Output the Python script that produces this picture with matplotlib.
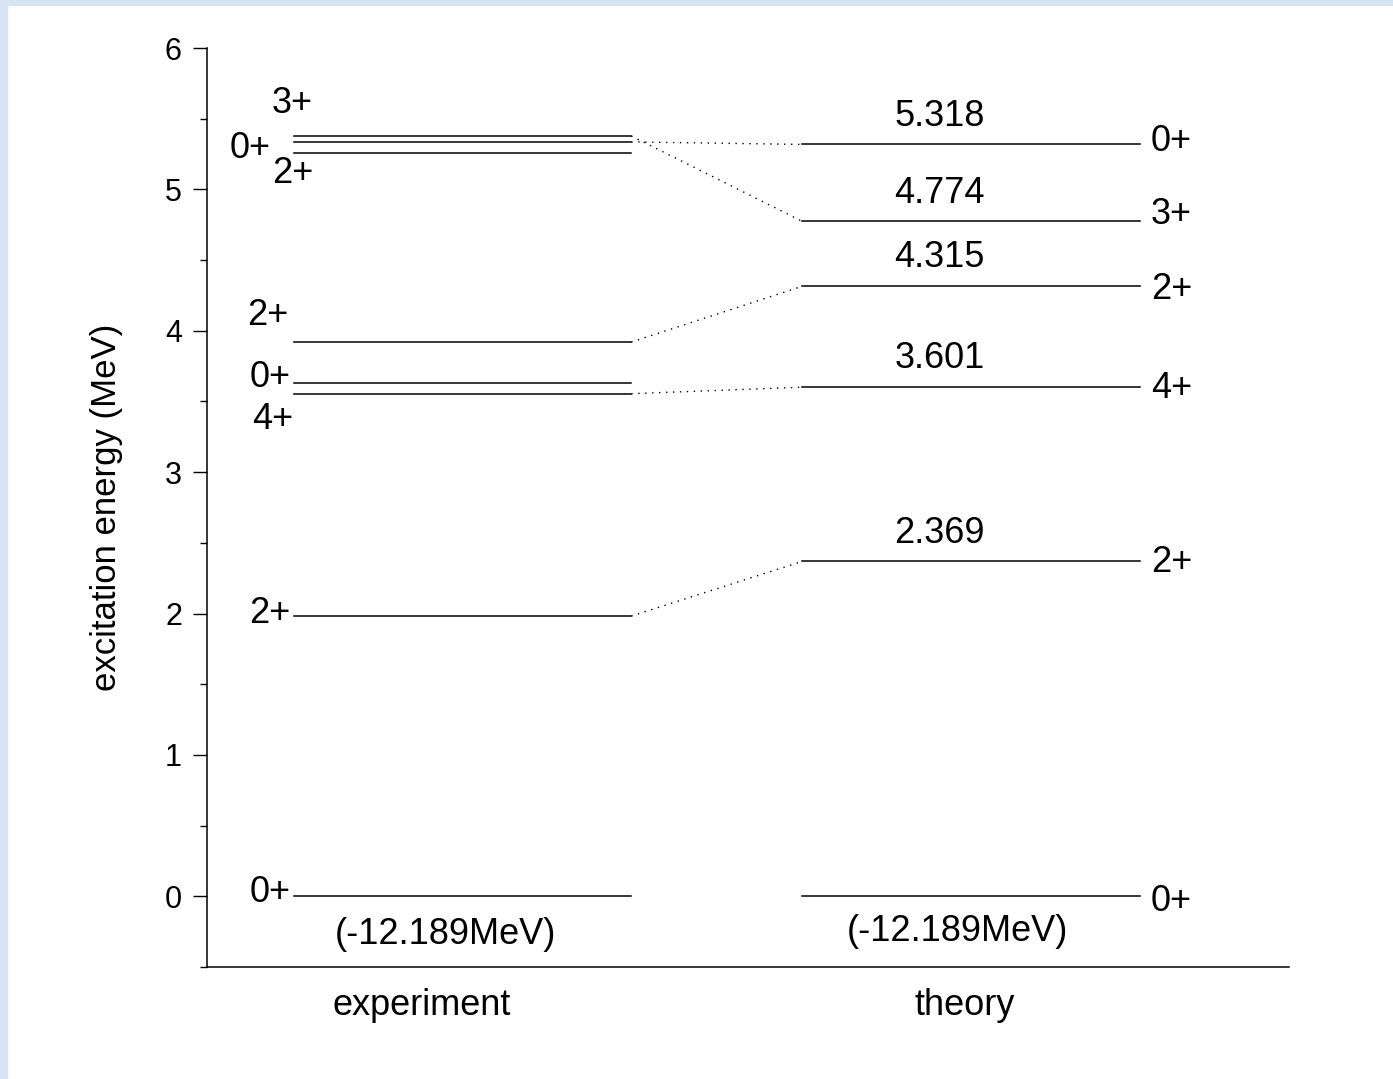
import matplotlib
matplotlib.use("Agg")
import matplotlib.pyplot as plt
from matplotlib.patches import Rectangle

plt.rcParams['font.family'] = ['Liberation Sans', 'DejaVu Sans']

# experimental levels (MeV) and spins
exp_e = [0.0, 1.982, 3.555, 3.634, 3.920, 5.255, 5.336, 5.378]
exp_spin = ["0+", "2+", "4+", "0+", "2+", "2+", "0+", "3+"]
# label positions for experimental spins (x, y) - placed by hand
exp_lab_x = [0.58, 0.58, 0.61, 0.58, 0.565, 0.79, 0.40, 0.79]
exp_lab_y = [0.03, 2.0, 3.37, 3.67, 4.11, 5.11, 5.29, 5.61]

# theory levels (MeV) and spins
th_e = [0.0, 2.369, 3.601, 4.315, 4.774, 5.318]
th_spin = ["0+", "2+", "4+", "2+", "3+", "0+"]
th_lab_y = [-0.04, 2.36, 3.59, 4.29, 4.82, 5.34]

# which exp level goes to which theory level
links = [(1, 1), (2, 2), (4, 3), (7, 4), (6, 5)]

ground = "(-12.189MeV)"
fs = 26

fig = plt.figure(figsize=(13.93, 10.79), dpi=100)
# light blue border along top and left
fig.patches.append(Rectangle((0, 0), 7 / 1393, 1, transform=fig.transFigure,
                             color="#d6e4f4", zorder=0))
fig.patches.append(Rectangle((0, 1 - 5 / 1079), 1, 5 / 1079,
                             transform=fig.transFigure, color="#d6e4f4", zorder=0))

ax = fig.add_axes([0.1486, 0.1038, 0.777, 0.8517])
ax.set_xlim(0, 10)
ax.set_ylim(-0.5, 6)

ex0, ex1 = 0.8, 3.92
tx0, tx1 = 5.5, 8.62

for e in exp_e:
    ax.plot([ex0, ex1], [e, e], color="black", lw=1.1)
for s, x, y in zip(exp_spin, exp_lab_x, exp_lab_y):
    ax.text(x, y, s, fontsize=fs, ha="center", va="center")

for e, s, y in zip(th_e, th_spin, th_lab_y):
    ax.plot([tx0, tx1], [e, e], color="black", lw=1.1)
    ax.text(8.72, y, s, fontsize=fs, ha="left", va="center")
    if e > 0:
        ax.text(6.77, e + 0.2, "%.3f" % e, fontsize=fs, ha="center", va="center")

for i, j in links:
    ax.plot([ex1, tx0], [exp_e[i], th_e[j]], color="black", lw=1.0,
            linestyle=(0, (1, 4)))

ax.text(2.2, -0.27, ground, fontsize=fs, ha="center", va="center")
ax.text(6.93, -0.25, ground, fontsize=fs, ha="center", va="center")

ax.text(1.985, -0.77, "experiment", fontsize=fs, ha="center", va="center")
ax.text(7.0, -0.77, "theory", fontsize=fs, ha="center", va="center")

ax.spines["top"].set_visible(False)
ax.spines["right"].set_visible(False)
ax.spines["left"].set_linewidth(1.1)
ax.spines["bottom"].set_linewidth(1.1)
ax.set_xticks([])
ax.set_yticks(range(0, 7))
ax.set_yticks([-0.5 + i for i in range(7)], minor=True)
ax.tick_params(axis="y", which="major", length=10, width=1.0, labelsize=22, pad=8)
ax.tick_params(axis="y", which="minor", length=5, width=1.0)
ax.set_ylabel("excitation energy (MeV)", fontsize=25, labelpad=30)

fig.savefig("out.png", dpi=100, facecolor="white")
